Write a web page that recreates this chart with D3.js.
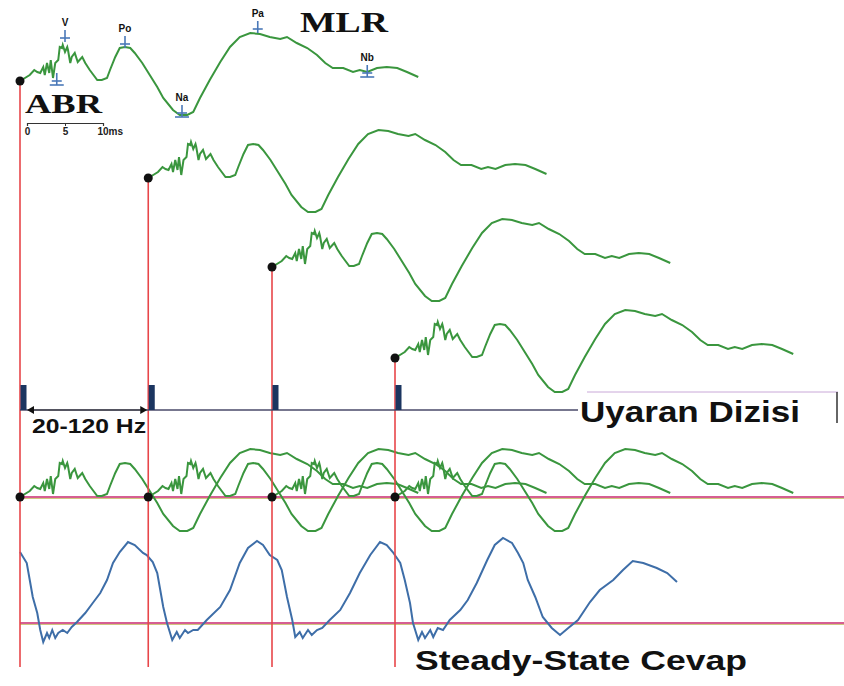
<!DOCTYPE html>
<html>
<head>
<meta charset="utf-8">
<script src="https://cdn.jsdelivr.net/npm/d3@7"></script>
<style>
  body { margin: 0; background: #fff; }
  svg { display: block; }
  .lbl { font-family: "Liberation Sans", Arial, sans-serif; font-weight: bold; fill: #111; }
  .big { font-family: "Liberation Serif", "Times New Roman", serif; font-weight: bold; fill: #111; }
</style>
</head>
<body>
<div class="chart"></div>
<script>
// averaged MLR template (ms after click, uV-ish units, up = positive)
var templateMs = [0, 1.3, 1.9, 2.3, 2.7, 3.1, 3.3, 3.6, 3.9, 4.1, 4.4, 4.7, 5.1, 5.3, 5.6, 5.7, 6.0, 6.3, 6.4, 6.7,
  6.9, 7.3, 7.7, 8.3, 8.7, 9.3, 10.3, 10.9, 11.6, 12.0, 12.7, 13.3, 14.0, 14.7, 15.3, 16.3, 17.3, 18.3, 19.1,
  20.4, 21.3, 22.3, 23.1, 24.0, 25.3, 26.7, 28.0, 29.3, 30.7, 32.0, 33.3, 34.7, 35.6, 36.9, 38.3, 39.6, 40.7,
  41.7, 43.1, 44.4, 45.3, 46.3, 47.6, 48.9, 50.3, 51.6, 53.1];
var templateUv = [0, 0.6, 1.1, 0.9, 0.8, 1.4, 0.6, 1.8, 0.8, 2.1, 0.3, 1.8, 2.1, 3.4, 3.3, 3.6, 2.9, 3.4, 3.1, 1.8,
  2.4, 2.8, 1.9, 2.4, 1.8, 1.1, 0.1, 0.1, 0.3, 1.1, 2.4, 3.3, 3.4, 3.3, 2.8, 1.8, 0.6, -0.6, -1.7,
  -2.9, -3.4, -3.4, -3.1, -1.7, 0.1, 1.9, 3.4, 4.4, 4.8, 4.7, 4.4, 4.2, 4.4, 3.8, 3.3, 2.6, 1.8,
  1.3, 1.3, 0.9, 1.1, 0.9, 1.3, 1.4, 1.3, 0.9, 0.4];

// click train onsets (ms)
var onsetsMs = [0, 17.1, 33.6, 50];

// labelled peaks on the first sweep
var peakNames = ["V", "Po", "Na", "Pa", "Nb", ""];
var peakMs = [6.0, 14.0, 21.6, 31.7, 46.3, 4.9];
var peakUv = [4.4, 3.8, -3.1, 5.3, 0.9, 0.1];

// steady-state response
var ssMs = [0, 0.9, 1.3, 1.7, 2.3, 2.7, 3.1, 3.6, 3.9, 4.3, 4.7, 5.1, 5.7, 6.3, 6.9, 7.6, 8.7, 9.7, 10.7, 11.6,
  12.4, 13.3, 14.4, 15.3, 16.4, 16.9, 17.7, 18.3, 18.7, 19.1, 19.6, 20.3, 20.9, 21.3, 22.0, 22.4, 23.1, 23.7,
  24.9, 26.7, 28.0, 29.3, 30.4, 31.6, 32.4, 33.3, 34.3, 34.9, 35.6, 36.3, 36.7, 37.3, 37.7, 38.4, 38.9, 39.6,
  40.3, 41.3, 42.7, 44.0, 45.3, 46.7, 48.0, 48.9, 49.7, 50.7, 51.3, 52.0, 52.4, 53.1, 53.6, 54.0, 54.7, 55.1,
  55.7, 56.4, 57.3, 58.7, 59.7, 60.9, 62.3, 63.3, 64.4, 65.6, 66.4, 67.1, 67.7, 68.7, 69.7, 70.9, 72.0, 73.1,
  74.4, 76.0, 77.3, 79.1, 80.4, 81.7, 83.1, 84.9, 86.3, 87.6];
var ssUv = [7.1, 6.0, 4.3, 2.6, 1.0, -0.7, -1.9, -1.0, -1.5, -0.7, -1.5, -1.0, -0.7, -1.0, -0.4, 0.1, 1.0, 2.0, 3.0, 4.3,
  6.0, 7.1, 8.1, 7.8, 7.0, 6.8, 6.1, 5.0, 3.3, 1.6, 0.0, -1.7, -0.9, -1.5, -0.7, -1.0, -0.7, -0.7,
  0.3, 1.6, 3.3, 6.0, 7.5, 8.2, 7.8, 6.8, 6.3, 5.3, 2.6, 0.3, -1.4, -0.9, -1.5, -0.7, -1.2, -0.7,
  -0.5, 0.3, 1.3, 3.0, 5.0, 6.8, 8.1, 7.8, 7.1, 6.0, 4.3, 2.0, 0.0, -1.7, -0.9, -1.5, -0.7, -1.4,
  -0.5, -0.7, 0.3, 1.3, 2.3, 4.0, 6.3, 7.8, 8.5, 8.0, 7.0, 6.0, 4.3, 2.6, 0.6, -0.5, -1.2, -0.5,
  0.3, 2.1, 3.3, 4.3, 5.3, 6.2, 6.0, 5.5, 5.0, 4.1];

var barTicks = [0, 5, 10];

var width = 844, height = 686;
var rowY = [81, 178, 267, 358];   // baseline of each single sweep
var stimY = 410, sumY = 497, ssY = 623, bottomY = 667;

var green = "#3a963e", red = "#e8464a", blue = "#3e6ea8", mark = "#4a78b8";

var x = d3.scaleLinear().domain([0, 110]).range([20, 845]);
var amp = d3.scaleLinear().domain([0, 1]).range([0, -10]);

var template = d3.zip(templateMs, templateUv);
var ss = d3.zip(ssMs, ssUv);

function sweep(t0, y0) {
  return d3.line()
    .x(d => x(t0 + d[0]))
    .y(d => y0 + amp(d[1]));
}

var svg = d3.select(".chart").append("svg")
    .attr("width", width)
    .attr("height", height);

// baselines
[sumY, ssY].forEach(function(y) {
  svg.append("line").attr("x1", x(0)).attr("x2", width).attr("y1", y + 1.5).attr("y2", y + 1.5)
    .attr("stroke", "#c4b860").attr("stroke-width", 0.8);
  svg.append("line").attr("x1", x(0)).attr("x2", width).attr("y1", y).attr("y2", y)
    .attr("stroke", "#c8286e").attr("stroke-width", 1.6);
});

// single sweeps
onsetsMs.forEach(function(t0, i) {
  svg.append("path")
    .attr("d", sweep(t0, rowY[i])(template))
    .attr("fill", "none").attr("stroke", green).attr("stroke-width", 2);
});

// superimposed sweeps
onsetsMs.forEach(function(t0) {
  svg.append("path")
    .attr("d", sweep(t0, sumY)(template))
    .attr("fill", "none").attr("stroke", green).attr("stroke-width", 2);
});

// steady state
svg.append("path")
  .attr("d", sweep(0, ssY)(ss))
  .attr("fill", "none").attr("stroke", blue).attr("stroke-width", 2);

// red onset lines
onsetsMs.forEach(function(t0, i) {
  svg.append("line")
    .attr("x1", x(t0)).attr("x2", x(t0))
    .attr("y1", rowY[i]).attr("y2", bottomY)
    .attr("stroke", red).attr("stroke-width", 1.6);
});

// stimulus train
svg.append("line").attr("x1", x(0)).attr("x2", 578).attr("y1", stimY).attr("y2", stimY)
  .attr("stroke", "#4a4a6a").attr("stroke-width", 1.3);
svg.selectAll(".stim").data(onsetsMs).join("rect")
  .attr("class", "stim")
  .attr("x", d => x(d) + 0.5).attr("y", stimY - 25)
  .attr("width", 6).attr("height", 25)
  .attr("fill", "#1b3560");

// double arrow between clicks
svg.append("line").attr("x1", x(onsetsMs[0]) + 10).attr("x2", x(onsetsMs[1]) - 8)
  .attr("y1", stimY).attr("y2", stimY).attr("stroke", "#333").attr("stroke-width", 1.2);
svg.append("path")
  .attr("d", d3.line()([[x(onsetsMs[0]) + 7, stimY], [x(onsetsMs[0]) + 14, stimY - 4], [x(onsetsMs[0]) + 14, stimY + 4]]) + "Z")
  .attr("fill", "#111");
svg.append("path")
  .attr("d", d3.line()([[x(onsetsMs[1]) - 1, stimY], [x(onsetsMs[1]) - 8, stimY - 4], [x(onsetsMs[1]) - 8, stimY + 4]]) + "Z")
  .attr("fill", "#111");
svg.append("text").attr("class", "lbl")
  .attr("x", 32).attr("y", 433).attr("font-size", 21)
  .attr("textLength", 114).attr("lengthAdjust", "spacingAndGlyphs")
  .text("20-120 Hz");

// onset dots
onsetsMs.forEach(function(t0, i) {
  svg.append("circle").attr("cx", x(t0)).attr("cy", rowY[i]).attr("r", 4.5).attr("fill", "#111");
  svg.append("circle").attr("cx", x(t0)).attr("cy", sumY).attr("r", 4.5).attr("fill", "#111");
});

// peak markers
var peaks = svg.selectAll(".pk").data(d3.zip(peakNames, peakMs, peakUv)).join("g")
  .attr("class", "pk")
  .attr("transform", d => "translate(" + x(d[1]) + "," + (rowY[0] + amp(d[2])) + ")");
peaks.append("line").attr("x1", 0).attr("x2", 0).attr("y1", -7).attr("y2", 5)
  .attr("stroke", mark).attr("stroke-width", 1.6);
peaks.append("line").attr("x1", -5).attr("x2", 5).attr("y1", 1).attr("y2", 1)
  .attr("stroke", mark).attr("stroke-width", 1.6);
peaks.filter(d => d[0] === "Na" || d[0] === "Nb" || d[0] === "")
  .append("line").attr("x1", -7).attr("x2", 7).attr("y1", 5).attr("y2", 5)
  .attr("stroke", mark).attr("stroke-width", 1.6);
peaks.append("text").attr("class", "lbl")
  .attr("y", -11).attr("text-anchor", "middle").attr("font-size", 10)
  .text(d => d[0]);

// time scale bar
var bar = d3.scaleLinear().domain([0, 10]).range([27, 103]);
var barAxis = svg.append("g")
  .attr("transform", "translate(0,123)")
  .call(d3.axisBottom(bar).tickValues(barTicks).tickSize(3).tickFormat(d => d === 10 ? "10ms" : d));
barAxis.select(".domain").attr("stroke", "#333").attr("stroke-width", 1.2);
barAxis.selectAll(".tick line").attr("stroke", "#333");
barAxis.selectAll("text")
  .attr("font-family", "Liberation Sans, Arial, sans-serif")
  .attr("font-weight", "bold").attr("font-size", 10).attr("fill", "#222").attr("y", 5);
barAxis.selectAll(".tick").filter(d => d === 10).select("text").attr("text-anchor", "start").attr("dx", -6);

// titles
svg.append("text").attr("class", "big")
  .attr("x", 25).attr("y", 113).attr("font-size", 27)
  .attr("textLength", 77).attr("lengthAdjust", "spacingAndGlyphs")
  .text("ABR");
svg.append("text").attr("class", "big")
  .attr("x", 300).attr("y", 32).attr("font-size", 29)
  .attr("textLength", 88).attr("lengthAdjust", "spacingAndGlyphs")
  .text("MLR");

// Uyaran Dizisi box
svg.append("line").attr("x1", 587).attr("x2", 838).attr("y1", 392).attr("y2", 392)
  .attr("stroke", "#c9a8d8").attr("stroke-width", 1);
svg.append("line").attr("x1", 837).attr("x2", 837).attr("y1", 392).attr("y2", 423)
  .attr("stroke", "#333").attr("stroke-width", 1.5);
svg.append("text").attr("class", "lbl")
  .attr("x", 580).attr("y", 422).attr("font-size", 29)
  .attr("textLength", 220).attr("lengthAdjust", "spacingAndGlyphs")
  .text("Uyaran Dizisi");

svg.append("text").attr("class", "lbl")
  .attr("x", 415).attr("y", 670).attr("font-size", 27)
  .attr("textLength", 332).attr("lengthAdjust", "spacingAndGlyphs")
  .text("Steady-State Cevap");
</script>
</body>
</html>
